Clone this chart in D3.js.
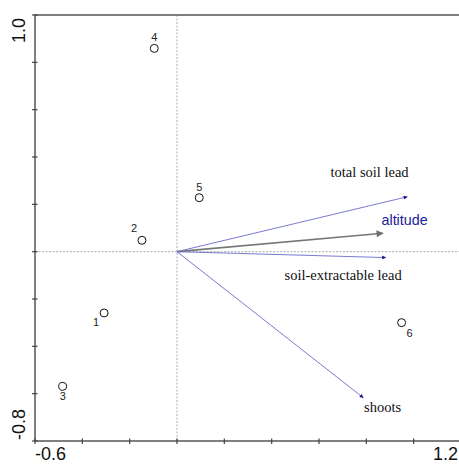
<!DOCTYPE html>
<meta charset="utf-8">
<style>
body { margin: 0; background: #fff; }
svg { display: block; }
.tick-lab { font-family: "Liberation Sans", Arial, sans-serif; font-size: 18px; fill: #111; }
.pt-lab { font-family: "Liberation Sans", Arial, sans-serif; font-size: 11px; fill: #222; }
.var-lab { font-family: "Liberation Serif", "Times New Roman", serif; font-size: 14.5px; fill: #111; }
</style>
<svg width="459" height="464"></svg>
<script src="https://d3js.org/d3.v7.min.js"></script>
<script>

// sample scores
var sites = ["1", "2", "3", "4", "5", "6"];
var siteX = [-0.308, -0.148, -0.483, -0.096, 0.094, 0.949];
var siteY = [-0.259, 0.048, -0.569, 0.859, 0.228, -0.300];

// environmental / response vectors
var vars = ["total soil lead", "altitude", "soil-extractable lead", "shoots"];
var varX = [0.973, 0.870, 0.882, 0.787];
var varY = [0.232, 0.078, -0.025, -0.617];

var xTicks = [-0.6, -0.4, -0.2, 0, 0.2, 0.4, 0.6, 0.8, 1.0, 1.2];
var yTicks = [-0.8, -0.6, -0.4, -0.2, 0, 0.2, 0.4, 0.6, 0.8, 1.0];

var svg = d3.select("svg");

var x = d3.scaleLinear().domain([-0.6, 1.2]).range([35, 461]);
var y = d3.scaleLinear().domain([-0.8, 1.0]).range([441, 15]);

var defs = svg.append("defs");
defs.append("marker")
    .attr("id", "headBlue")
    .attr("viewBox", "0 0 10 10")
    .attr("refX", 9).attr("refY", 5)
    .attr("markerWidth", 5).attr("markerHeight", 4)
    .attr("markerUnits", "userSpaceOnUse")
    .attr("orient", "auto")
  .append("path").attr("d", "M0,0L10,5L0,10Z").attr("fill", "#1c1c8c");
defs.append("marker")
    .attr("id", "headGray")
    .attr("viewBox", "0 0 10 10")
    .attr("refX", 9).attr("refY", 5)
    .attr("markerWidth", 10).attr("markerHeight", 7)
    .attr("markerUnits", "userSpaceOnUse")
    .attr("orient", "auto")
  .append("path").attr("d", "M0,0L10,5L0,10Z").attr("fill", "#707070");

// zero lines
svg.append("line")
    .attr("x1", x(0)).attr("x2", x(0))
    .attr("y1", y(1.0)).attr("y2", y(-0.8))
    .attr("stroke", "#999").attr("stroke-width", 0.8)
    .attr("stroke-dasharray", "2,1.5");
svg.append("line")
    .attr("x1", x(-0.6)).attr("x2", x(1.2))
    .attr("y1", y(0)).attr("y2", y(0))
    .attr("stroke", "#999").attr("stroke-width", 0.8)
    .attr("stroke-dasharray", "2,1.5");

// frame
svg.append("rect")
    .attr("x", x(-0.6)).attr("y", y(1.0))
    .attr("width", x(1.2) - x(-0.6)).attr("height", y(-0.8) - y(1.0))
    .attr("fill", "none").attr("stroke", "#555").attr("stroke-width", 1.5);

// ticks
svg.selectAll(".xt").data(xTicks).enter().append("line")
    .attr("x1", function(d){ return x(d); }).attr("x2", function(d){ return x(d); })
    .attr("y1", y(-0.8) - 2.5).attr("y2", y(-0.8) + 3)
    .attr("stroke", "#444").attr("stroke-width", 1.2);
svg.selectAll(".yt").data(yTicks).enter().append("line")
    .attr("y1", function(d){ return y(d); }).attr("y2", function(d){ return y(d); })
    .attr("x1", x(-0.6) - 3).attr("x2", x(-0.6) + 2.5)
    .attr("stroke", "#444").attr("stroke-width", 1.2);

// tick labels (only ends shown)
svg.append("text").attr("class", "tick-lab")
    .attr("x", x(-0.6)).attr("y", 460).text("-0.6");
svg.append("text").attr("class", "tick-lab")
    .attr("x", 458).attr("y", 460).attr("text-anchor", "end").text("1.2");
svg.append("text").attr("class", "tick-lab")
    .attr("transform", "translate(25," + (y(1.0) + 3) + ") rotate(-90)")
    .attr("text-anchor", "end").text("1.0");
svg.append("text").attr("class", "tick-lab")
    .attr("transform", "translate(25," + (y(-0.8) - 1) + ") rotate(-90)")
    .text("-0.8");

// vectors
var vecColor = ["#6a6acc", "#777", "#6a6acc", "#6a6acc"];
vars.forEach(function(v, i) {
  var gray = v === "altitude";
  svg.append("line")
      .attr("x1", x(0)).attr("y1", y(0))
      .attr("x2", x(varX[i])).attr("y2", y(varY[i]))
      .attr("stroke", vecColor[i])
      .attr("stroke-width", gray ? 1.6 : 0.9)
      .attr("marker-end", gray ? "url(#headGray)" : "url(#headBlue)");
});

// vector labels
var labX = [330.5, 381.5, 284.5, 364];
var labY = [177, 225, 280, 412];
svg.append("text").attr("class", "var-lab")
    .attr("x", labX[0]).attr("y", labY[0]).text(vars[0]);
svg.append("text")
    .attr("x", labX[1]).attr("y", labY[1])
    .attr("font-family", "Liberation Sans, Arial, sans-serif")
    .attr("font-size", 14.3).attr("fill", "#1a1a99").text(vars[1]);
svg.append("text").attr("class", "var-lab")
    .attr("x", labX[2]).attr("y", labY[2]).text(vars[2]);
svg.append("text").attr("class", "var-lab")
    .attr("x", labX[3]).attr("y", labY[3]).text(vars[3]);

// sites
var offX = [-8, -8, 0, 0, 0, 8];
var offY = [13, -8, 14, -7, -7, 14];
svg.selectAll(".site").data(sites).enter().append("circle")
    .attr("cx", function(d, i){ return x(siteX[i]); })
    .attr("cy", function(d, i){ return y(siteY[i]); })
    .attr("r", 4)
    .attr("fill", "none").attr("stroke", "#111").attr("stroke-width", 1);
svg.selectAll(".slab").data(sites).enter().append("text")
    .attr("class", "pt-lab")
    .attr("text-anchor", "middle")
    .attr("x", function(d, i){ return x(siteX[i]) + offX[i]; })
    .attr("y", function(d, i){ return y(siteY[i]) + offY[i]; })
    .text(function(d){ return d; });

</script>
